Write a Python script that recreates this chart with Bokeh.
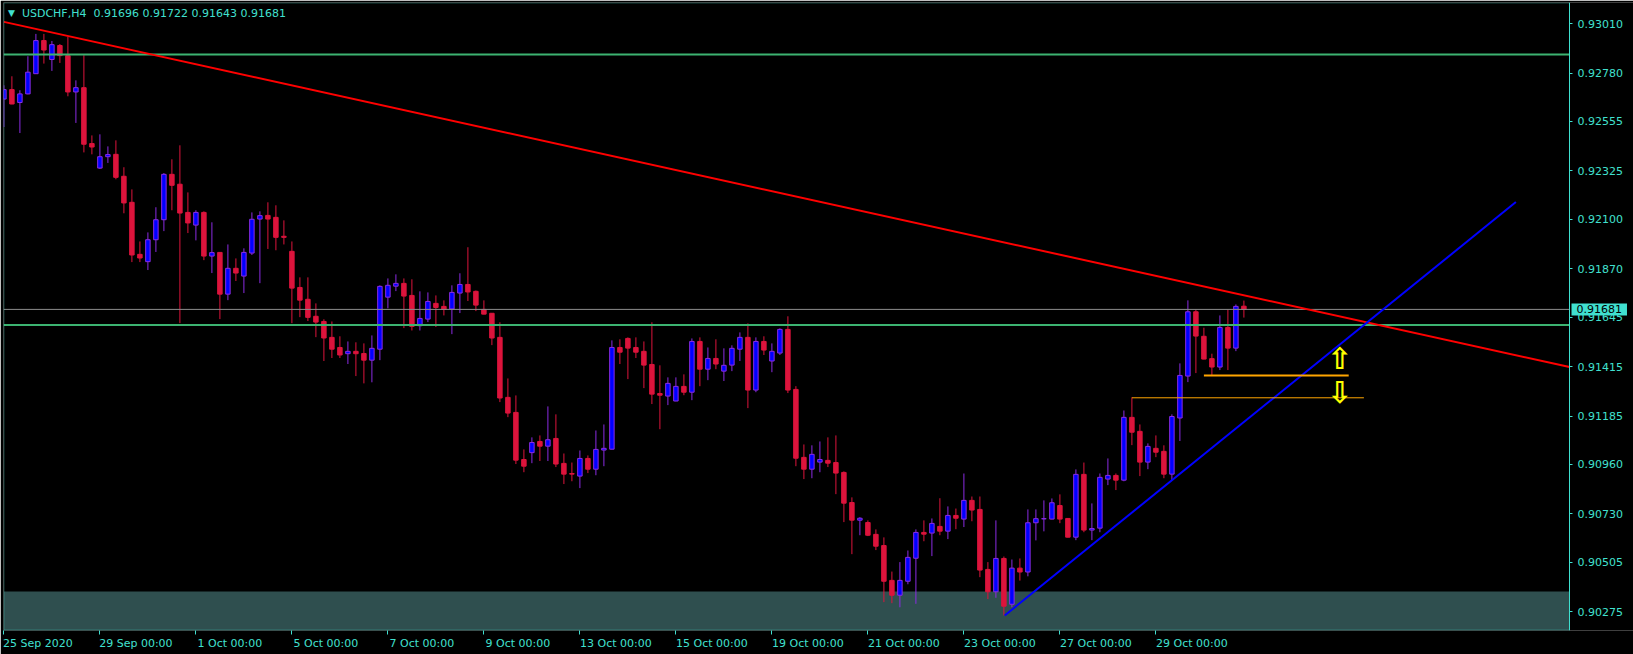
from bokeh.plotting import figure
from bokeh.models import (ColumnDataSource, Range1d, FixedTicker, PrintfTickFormatter,
                          BoxAnnotation, Label, LinearAxis)
from bokeh.embed import file_html
from bokeh.resources import INLINE
from bokeh.core.properties import value

FG = "#40E0D0"
FONT = "DejaVu Sans"

symbol_title = "USDCHF,H4\u00a0 0.91696 0.91722 0.91643 0.91681"

opens = [0.92659, 0.92703, 0.92643, 0.92683, 0.92777, 0.92931, 0.92843, 0.92908, 0.92861, 0.92692,
         0.92712, 0.92452, 0.92338, 0.92391, 0.92402, 0.92300, 0.92179, 0.91937, 0.91903, 0.92005,
         0.92098, 0.92309, 0.92263, 0.92132, 0.92073, 0.92132, 0.91929, 0.91946, 0.91752, 0.91872,
         0.91836, 0.91943, 0.92101, 0.92118, 0.92109, 0.92021, 0.91951, 0.91783, 0.91728, 0.91649,
         0.91625, 0.91551, 0.91504, 0.91475, 0.91486, 0.91476, 0.91445, 0.91496, 0.91738, 0.91789,
         0.91802, 0.91746, 0.91605, 0.91636, 0.91709, 0.91695, 0.91683, 0.91757, 0.91797, 0.91765,
         0.91681, 0.91663, 0.91551, 0.91272, 0.91202, 0.90983, 0.91015, 0.91067, 0.91045, 0.91081,
         0.90965, 0.90918, 0.90906, 0.90988, 0.90938, 0.91027, 0.91031, 0.91504, 0.91546, 0.91504,
         0.91486, 0.91425, 0.91290, 0.91278, 0.91255, 0.91323, 0.91296, 0.91532, 0.91403, 0.91453,
         0.91394, 0.91422, 0.91496, 0.91551, 0.91306, 0.91532, 0.91441, 0.91478, 0.91588, 0.91309,
         0.90993, 0.90938, 0.90971, 0.90979, 0.90969, 0.90923, 0.90783, 0.90701, 0.90690, 0.90635,
         0.90583, 0.90421, 0.90352, 0.90417, 0.90524, 0.90644, 0.90641, 0.90672, 0.90650, 0.90723,
         0.90706, 0.90793, 0.90751, 0.90472, 0.90368, 0.90523, 0.90310, 0.90478, 0.90460, 0.90689,
         0.90707, 0.90706, 0.90769, 0.90709, 0.90622, 0.90914, 0.90655, 0.90664, 0.90892, 0.90909,
         0.90887, 0.91179, 0.91114, 0.90971, 0.91035, 0.91021, 0.90915, 0.91176, 0.91371, 0.91670,
         0.91556, 0.91452, 0.91413, 0.91597, 0.91501, 0.91696]

highs = [0.92723, 0.92765, 0.92700, 0.92858, 0.92962, 0.92962, 0.92929, 0.92915, 0.92948, 0.92746,
         0.92863, 0.92490, 0.92495, 0.92439, 0.92467, 0.92342, 0.92239, 0.91997, 0.92039, 0.92156,
         0.92315, 0.92379, 0.92444, 0.92225, 0.92142, 0.92137, 0.92086, 0.91946, 0.91983, 0.91918,
         0.91965, 0.92132, 0.92137, 0.92179, 0.92165, 0.92095, 0.91997, 0.91830, 0.91830, 0.91709,
         0.91635, 0.91625, 0.91556, 0.91532, 0.91528, 0.91523, 0.91560, 0.91793, 0.91825, 0.91844,
         0.91825, 0.91821, 0.91765, 0.91760, 0.91746, 0.91723, 0.91793, 0.91849, 0.91970, 0.91769,
         0.91723, 0.91663, 0.91621, 0.91360, 0.91281, 0.91030, 0.91086, 0.91095, 0.91230, 0.91193,
         0.91011, 0.90969, 0.91025, 0.91002, 0.91118, 0.91146, 0.91537, 0.91542, 0.91551, 0.91551,
         0.91532, 0.91621, 0.91421, 0.91365, 0.91365, 0.91379, 0.91546, 0.91551, 0.91504, 0.91542,
         0.91500, 0.91514, 0.91574, 0.91616, 0.91551, 0.91556, 0.91523, 0.91593, 0.91649, 0.91324,
         0.91053, 0.91049, 0.91067, 0.91086, 0.91095, 0.90928, 0.90807, 0.90715, 0.90700, 0.90658,
         0.90621, 0.90462, 0.90506, 0.90560, 0.90658, 0.90700, 0.90709, 0.90803, 0.90765, 0.90755,
         0.90918, 0.90811, 0.90811, 0.90506, 0.90700, 0.90532, 0.90518, 0.90523, 0.90751, 0.90751,
         0.90793, 0.90802, 0.90821, 0.90709, 0.90937, 0.90969, 0.90779, 0.90918, 0.90988, 0.90918,
         0.91211, 0.91272, 0.91146, 0.91058, 0.91095, 0.91049, 0.91193, 0.91430, 0.91723, 0.91680,
         0.91596, 0.91475, 0.91653, 0.91681, 0.91704, 0.91722]

lows = [0.92529, 0.92635, 0.92501, 0.92681, 0.92776, 0.92824, 0.92790, 0.92827, 0.92672, 0.92548,
        0.92411, 0.92402, 0.92334, 0.92362, 0.92286, 0.92128, 0.91901, 0.91901, 0.91864, 0.91948,
        0.92045, 0.92142, 0.91617, 0.92036, 0.92002, 0.91910, 0.91850, 0.91636, 0.91724, 0.91813,
        0.91757, 0.91934, 0.91803, 0.91962, 0.91956, 0.91983, 0.91617, 0.91645, 0.91627, 0.91552,
        0.91441, 0.91455, 0.91455, 0.91427, 0.91371, 0.91337, 0.91342, 0.91445, 0.91686, 0.91766,
        0.91594, 0.91583, 0.91583, 0.91622, 0.91599, 0.91653, 0.91566, 0.91664, 0.91720, 0.91673,
        0.91658, 0.91515, 0.91250, 0.91180, 0.90962, 0.90924, 0.90966, 0.90976, 0.90976, 0.90948,
        0.90869, 0.90882, 0.90850, 0.90920, 0.90910, 0.90952, 0.91030, 0.91427, 0.91357, 0.91455,
        0.91315, 0.91241, 0.91124, 0.91236, 0.91254, 0.91282, 0.91259, 0.91324, 0.91352, 0.91403,
        0.91348, 0.91394, 0.91441, 0.91222, 0.91296, 0.91469, 0.91389, 0.91469, 0.91292, 0.90952,
        0.90892, 0.90896, 0.90924, 0.90948, 0.90822, 0.90692, 0.90543, 0.90631, 0.90627, 0.90562,
        0.90320, 0.90315, 0.90296, 0.90403, 0.90312, 0.90603, 0.90534, 0.90631, 0.90613, 0.90659,
        0.90669, 0.90696, 0.90436, 0.90334, 0.90340, 0.90258, 0.90296, 0.90420, 0.90440, 0.90607,
        0.90649, 0.90705, 0.90687, 0.90621, 0.90608, 0.90645, 0.90608, 0.90645, 0.90864, 0.90841,
        0.90882, 0.91050, 0.90906, 0.90938, 0.90994, 0.90896, 0.90887, 0.91069, 0.91343, 0.91385,
        0.91449, 0.91371, 0.91399, 0.91399, 0.91487, 0.91643]

closes = [0.92703, 0.92636, 0.92683, 0.92784, 0.92931, 0.92887, 0.92912, 0.92861, 0.92692, 0.92712,
          0.92449, 0.92436, 0.92391, 0.92401, 0.92295, 0.92176, 0.91934, 0.91920, 0.92005, 0.92098,
          0.92309, 0.92258, 0.92129, 0.92083, 0.92132, 0.91929, 0.91945, 0.91752, 0.91872, 0.91850,
          0.91946, 0.92100, 0.92117, 0.92101, 0.92016, 0.92016, 0.91780, 0.91724, 0.91644, 0.91622,
          0.91548, 0.91496, 0.91469, 0.91486, 0.91475, 0.91445, 0.91500, 0.91788, 0.91793, 0.91802,
          0.91743, 0.91602, 0.91639, 0.91718, 0.91690, 0.91681, 0.91760, 0.91797, 0.91762, 0.91701,
          0.91659, 0.91548, 0.91269, 0.91199, 0.90980, 0.90952, 0.91062, 0.91045, 0.91075, 0.90962,
          0.90915, 0.90915, 0.90988, 0.90938, 0.91030, 0.91035, 0.91504, 0.91482, 0.91501, 0.91482,
          0.91422, 0.91287, 0.91282, 0.91337, 0.91323, 0.91296, 0.91532, 0.91403, 0.91453, 0.91427,
          0.91421, 0.91500, 0.91551, 0.91306, 0.91532, 0.91492, 0.91486, 0.91588, 0.91306, 0.90989,
          0.90938, 0.91007, 0.90983, 0.90966, 0.90920, 0.90780, 0.90701, 0.90710, 0.90631, 0.90580,
          0.90417, 0.90352, 0.90421, 0.90528, 0.90644, 0.90636, 0.90686, 0.90650, 0.90723, 0.90710,
          0.90793, 0.90748, 0.90469, 0.90368, 0.90523, 0.90301, 0.90478, 0.90460, 0.90689, 0.90708,
          0.90708, 0.90782, 0.90706, 0.90622, 0.90914, 0.90655, 0.90662, 0.90900, 0.90909, 0.90887,
          0.91179, 0.91110, 0.90971, 0.91044, 0.91017, 0.90915, 0.91183, 0.91374, 0.91670, 0.91557,
          0.91450, 0.91413, 0.91597, 0.91501, 0.91695, 0.91681]

# time axis (bar index of each label) and its labels
xtick_bars = [0, 12, 24, 36, 48, 60, 72, 84, 96, 108, 120, 132, 144]
xtick_labels = ["25 Sep 2020", "29 Sep 00:00", "1 Oct 00:00", "5 Oct 00:00", "7 Oct 00:00",
                "9 Oct 00:00", "13 Oct 00:00", "15 Oct 00:00", "19 Oct 00:00", "21 Oct 00:00",
                "23 Oct 00:00", "27 Oct 00:00", "29 Oct 00:00"]

# price axis
ytick_values = [0.93010, 0.92780, 0.92555, 0.92325, 0.92100, 0.91870, 0.91645,
                0.91415, 0.91185, 0.90960, 0.90730, 0.90505, 0.90275]

# chart objects
hline_green = [0.92866, 0.91608]
bid_price = 0.91681
zone_top = 0.90369
red_trend_bars = [0, 195.7]
red_trend_prices = [0.93018, 0.91413]
blue_trend_bars = [125.1, 189.0]
blue_trend_prices = [0.90258, 0.92180]
orange_thick_bars = [150.0, 168.1]
orange_thick_price = 0.91374
orange_thin_bars = [141.0, 170.0]
orange_thin_price = 0.91270
arrow_bars = [167.0, 167.0]
arrow_prices = [0.91452, 0.91295]
arrow_glyphs = ["\u21e7", "\u21e9"]

BULL_FILL, BULL_LINE = "#0000FF", "#8A2BE2"
BEAR_FILL, BEAR_LINE = "#DC143C", "#DC143C"

# layout: the plotting frame runs to the right edge, the price scale sits at X_END
PX_PER_BAR = 8.0
X_START = -0.05
X_END = 195.7                       # right edge of the chart area
Y_LO, Y_HI = 0.90188, 0.93108
FRAME_W = 1630
FRAME_H = 628
x_full_end = X_START + FRAME_W / PX_PER_BAR
half_px_x = 0.5 / PX_PER_BAR
half_px_y = 0.5 * (Y_HI - Y_LO) / FRAME_H

bars = list(range(len(opens)))
up = [c >= o for o, c in zip(opens, closes)]
src = ColumnDataSource(dict(
    x=bars, h=highs, l=lows,
    top=[max(o, c) for o, c in zip(opens, closes)],
    bottom=[min(o, c) for o, c in zip(opens, closes)],
    fill=[BULL_FILL if u else BEAR_FILL for u in up],
    line=[BULL_LINE if u else BEAR_LINE for u in up],
))

p = figure(width=1633, height=654, output_backend="svg", toolbar_location=None,
           x_range=Range1d(X_START, x_full_end), y_range=Range1d(Y_LO, Y_HI),
           y_axis_location=None,
           background_fill_color="black", border_fill_color="black",
           min_border_left=3, min_border_top=2, min_border_right=0, min_border_bottom=24)
p.grid.visible = False
p.outline_line_color = None

# price zone
p.add_layout(BoxAnnotation(top=zone_top, right=X_END, fill_color="#2F4F4F", fill_alpha=1.0,
                           line_alpha=0, level="underlay"))

# candles
p.segment(x0="x", y0="l", x1="x", y1="h", line_color="line", line_width=1, source=src)
p.vbar(x="x", width=0.56, top="top", bottom="bottom", fill_color="fill",
       line_color="line", line_width=1, source=src)

# horizontal levels
n_g = len(hline_green)
p.segment(x0=[X_START] * n_g, x1=[X_END] * n_g, y0=hline_green, y1=hline_green,
          line_color="#3CB371", line_width=2)
p.segment(x0=[X_START], x1=[X_END], y0=[bid_price], y1=[bid_price],
          line_color="#8C8C8C", line_width=1)

# trend lines
p.line(red_trend_bars, red_trend_prices, line_color="#FF0000", line_width=2)
p.line(blue_trend_bars, blue_trend_prices, line_color="#0000FF", line_width=2)
p.line(orange_thick_bars, [orange_thick_price] * 2, line_color="#FFA500", line_width=2)
p.line(orange_thin_bars, [orange_thin_price] * 2, line_color="#FFA500", line_width=1)

# arrows
p.text(x=arrow_bars, y=arrow_prices, text=arrow_glyphs, text_color="#FFFF00",
       text_font=value(FONT), text_font_size="30px", text_font_style="bold",
       text_align="center", text_baseline="middle")

# chart border
p.add_layout(BoxAnnotation(left=X_START + half_px_x, right=X_END,
                           bottom=Y_LO + half_px_y, top=Y_HI - half_px_y,
                           fill_alpha=0, line_color=FG, line_width=1, level="overlay"))

# time axis
xa = p.xaxis[0]
label_pos = []
overrides = {}
for b, lab in zip(xtick_bars, xtick_labels):
    off = round(len(lab) * 6.1 / 2 / PX_PER_BAR * 4) / 4
    pos = b + off
    label_pos.append(pos)
    overrides[pos] = lab
xa.ticker = FixedTicker(ticks=label_pos, minor_ticks=xtick_bars)
xa.major_label_overrides = overrides
xa.major_tick_out = 0
xa.major_tick_in = 0
xa.minor_tick_out = 4
xa.minor_tick_in = 0
xa.minor_tick_line_color = FG
xa.axis_line_color = None
xa.major_label_text_color = FG
xa.major_label_text_font = FONT
xa.major_label_text_font_size = "11px"
xa.major_label_standoff = 2

# price axis, pinned to the chart's right edge
ya = LinearAxis(fixed_location=X_END,
                ticker=FixedTicker(ticks=ytick_values),
                formatter=PrintfTickFormatter(format="%.5f"),
                major_tick_out=3, major_tick_in=0, minor_tick_out=0, minor_tick_in=0,
                major_tick_line_color=FG, axis_line_color=FG,
                major_label_text_color=FG, major_label_text_font=FONT,
                major_label_text_font_size="11px", major_label_standoff=5)
p.add_layout(ya, "right")

# title and bid label
p.add_layout(Label(x=0.95, y=0.93060, text="\u25bc", text_color=FG, text_font=FONT,
                   text_font_size="9px", text_align="center", text_baseline="middle"))
p.add_layout(Label(x=2.25, y=0.93059, text=symbol_title, text_color=FG, text_font=FONT,
                   text_font_size="11px", text_align="left", text_baseline="middle"))
p.add_layout(Label(x=X_END + 0.25, y=bid_price, text="0.91681", text_color="black",
                   text_font=FONT, text_font_size="11px", text_align="left",
                   text_baseline="middle", background_fill_color=FG, padding=(5, 2)))

html = file_html(p, INLINE)
html = html.replace("<body>", '<body style="background-color:#000000;">', 1)
open("out.html", "w").write(html)
